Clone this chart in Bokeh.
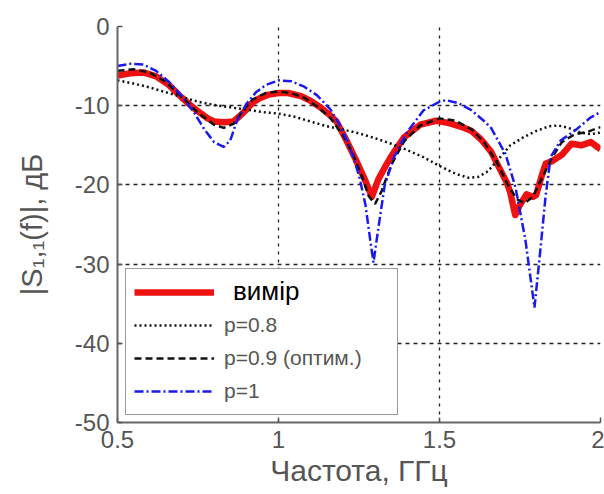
from bokeh.plotting import figure
from bokeh.models import Range1d, FixedTicker, Legend, LegendItem
from bokeh.embed import file_html
from bokeh.resources import INLINE

# ---- data ----
freq_meas = [0.50, 0.54, 0.58, 0.62, 0.66, 0.70, 0.74, 0.78, 0.80, 0.83, 0.86, 0.88, 0.90,
             0.92, 0.94, 0.97, 1.00, 1.03, 1.07, 1.10, 1.13, 1.16, 1.18, 1.21, 1.24, 1.27,
             1.29, 1.31, 1.33, 1.35, 1.39, 1.44, 1.49, 1.53, 1.57, 1.60, 1.63, 1.66, 1.69,
             1.71, 1.72, 1.735, 1.75, 1.77, 1.79, 1.80, 1.82, 1.83, 1.85, 1.88, 1.91, 1.94,
             1.97, 2.00]
s11_meas = [-6.2, -5.9, -5.8, -6.3, -7.4, -9.0, -10.4, -11.6, -12.0, -12.1, -12.0, -11.3, -10.5,
            -9.6, -9.1, -8.6, -8.4, -8.4, -8.8, -9.4, -10.2, -11.2, -12.0, -14.3, -16.8, -19.5,
            -21.5, -19.3, -17.8, -16.4, -14.0, -12.4, -11.9, -12.2, -12.7, -13.2, -14.3, -15.8, -18.2,
            -19.8, -21.0, -23.8, -22.5, -21.2, -21.5, -21.3, -18.5, -17.3, -17.0, -16.2, -14.8, -15.0,
            -14.6, -15.5]

freq_p08 = [0.50, 0.55, 0.60, 0.65, 0.70, 0.75, 0.80, 0.85, 0.90, 0.95, 1.00, 1.05, 1.10, 1.15,
            1.20, 1.25, 1.30, 1.35, 1.40, 1.45, 1.50, 1.55, 1.59, 1.62, 1.65, 1.68, 1.72, 1.76,
            1.80, 1.84, 1.87, 1.90, 1.94, 1.97, 2.00]
s11_p08 = [-6.8, -7.2, -7.7, -8.3, -8.9, -9.5, -9.9, -10.2, -10.5, -10.8, -11.0, -11.4, -12.0, -12.6,
           -13.0, -13.5, -14.1, -14.8, -15.6, -16.5, -17.6, -18.6, -19.1, -19.0, -18.3, -16.9, -15.0, -14.0,
           -13.2, -12.6, -12.5, -12.8, -13.4, -13.6, -13.4]

freq_p09 = [0.50, 0.55, 0.60, 0.65, 0.70, 0.75, 0.80, 0.83, 0.86, 0.89, 0.92, 0.96, 1.00, 1.04,
            1.08, 1.12, 1.16, 1.20, 1.23, 1.26, 1.28, 1.30, 1.32, 1.35, 1.39, 1.44, 1.50, 1.55,
            1.60, 1.64, 1.68, 1.71, 1.74, 1.765, 1.79, 1.82, 1.85, 1.88, 1.92, 1.96, 2.00]
s11_p09 = [-5.6, -5.4, -5.8, -7.0, -8.9, -10.9, -12.4, -12.8, -12.3, -10.6, -9.2, -8.4, -8.2, -8.4,
           -9.0, -10.1, -11.5, -13.7, -16.0, -19.0, -21.4, -22.4, -20.8, -17.5, -14.5, -12.5, -11.6, -11.9,
           -13.0, -14.7, -17.3, -19.8, -21.8, -22.3, -21.5, -19.0, -16.5, -14.6, -13.6, -13.3, -12.7]

freq_p1 = [0.50, 0.54, 0.58, 0.62, 0.66, 0.70, 0.74, 0.77, 0.80, 0.83, 0.85, 0.87, 0.90, 0.93,
           0.96, 1.00, 1.04, 1.08, 1.12, 1.16, 1.19, 1.22, 1.25, 1.27, 1.285, 1.295, 1.31, 1.33,
           1.36, 1.40, 1.45, 1.50, 1.52, 1.56, 1.60, 1.64, 1.66, 1.705, 1.736, 1.767, 1.795, 1.814,
           1.829, 1.845, 1.876, 1.922, 1.969, 2.00]
s11_p1 = [-5.0, -4.7, -4.8, -5.6, -7.0, -8.8, -11.0, -13.0, -14.6, -15.2, -14.4, -12.0, -9.8, -8.3,
          -7.4, -6.8, -6.9, -7.6, -8.7, -10.4, -12.4, -15.0, -18.8, -22.5, -27.0, -29.8, -25.5, -20.0,
          -16.4, -13.3, -10.6, -9.5, -9.3, -9.7, -10.6, -12.0, -12.8, -16.1, -20.3, -27.0, -35.5, -27.9,
          -21.6, -16.5, -14.4, -13.1, -11.5, -10.8]

x_ticks = [0.5, 1, 1.5, 2]
x_tick_labels = ["0.5", "1", "1.5", "2"]
y_ticks = [-50, -40, -30, -20, -10, 0]
y_tick_labels = ["-50", "-40", "-30", "-20", "-10", "0"]
legend_labels = ["вимір", "p=0.8", "p=0.9 (оптим.)", "p=1"]

FONT = "Liberation Sans"
GRAY = "#555555"

p = figure(width=604, height=494, output_backend="svg", toolbar_location=None,
           x_range=Range1d(0.5, 2), y_range=Range1d(-50, 0),
           min_border_left=117, min_border_right=4, min_border_top=26, min_border_bottom=72)
p.outline_line_color = None
p.background_fill_color = "white"
p.border_fill_color = "white"

# axes
for ax in (p.xaxis[0], p.yaxis[0]):
    ax.axis_line_color = "#666666"
    ax.axis_line_width = 2
    ax.major_tick_in = 5
    ax.major_tick_out = 0
    ax.major_tick_line_color = "#555555"
    ax.major_tick_line_width = 1.5
    ax.minor_tick_line_color = None
    ax.major_label_text_font = FONT
    ax.major_label_text_font_size = "24px"
    ax.major_label_text_color = GRAY
    ax.axis_label_text_font = FONT
    ax.axis_label_text_font_style = "normal"
    ax.axis_label_text_color = GRAY

p.xaxis.axis_label_text_font_size = "30px"
p.yaxis.axis_label_text_font_size = "29px"
p.xaxis.ticker = FixedTicker(ticks=x_ticks)
p.xaxis.major_label_overrides = dict(zip(x_ticks, x_tick_labels))
p.yaxis.ticker = FixedTicker(ticks=y_ticks)
p.yaxis.major_label_overrides = dict(zip(y_ticks, y_tick_labels))
p.xaxis.axis_label = "Частота, ГГц"
p.yaxis.axis_label = "|S\u2081,\u2081(f)|, дБ"
p.xaxis.major_label_standoff = 8
p.xaxis.axis_label_standoff = 3
p.yaxis.major_label_standoff = 8
p.yaxis.axis_label_standoff = 24

# grid
p.xgrid.grid_line_color = "#222222"
p.xgrid.grid_line_dash = "3 5"
p.xgrid.grid_line_width = 1.3
p.ygrid.grid_line_color = "#222222"
p.ygrid.grid_line_dash = "4 4"
p.ygrid.grid_line_width = 1.3

# series
r_meas = p.line(freq_meas, s11_meas, line_color="#ee1111", line_width=6.5, line_join="round")
r_p08 = p.line(freq_p08, s11_p08, line_color="#111111", line_width=2.5, line_dash="2 3")
r_p09 = p.line(freq_p09, s11_p09, line_color="#111111", line_width=2.5, line_dash="7 4")
r_p1 = p.line(freq_p1, s11_p1, line_color="#1a1aee", line_width=2.5, line_dash="9 3 2 3")
# invisible helper renderer carrying the big "вимір" legend label
r_blank = p.line([], [], line_alpha=0)

legend = Legend(items=[
    LegendItem(label="", renderers=[r_meas]),
    LegendItem(label=legend_labels[1], renderers=[r_p08]),
    LegendItem(label=legend_labels[2], renderers=[r_p09]),
    LegendItem(label=legend_labels[3], renderers=[r_p1]),
], location=(8, 7))
legend.label_text_font = FONT
legend.label_text_font_size = "21px"
legend.label_text_color = GRAY
legend.glyph_width = 80
legend.glyph_height = 30
legend.label_height = 30
legend.label_standoff = 10
legend.spacing = 3
legend.padding = 8
legend.margin = 0
legend.border_line_color = "#333333"
legend.border_line_width = 1.5
legend.background_fill_color = "white"
legend.background_fill_alpha = 1
legend.label_width = 165
p.add_layout(legend, "center")

legend_top = Legend(items=[LegendItem(label=legend_labels[0], renderers=[r_blank])],
                    location=(8, 115))
legend_top.label_text_font = FONT
legend_top.label_text_font_size = "26px"
legend_top.label_text_color = "black"
legend_top.glyph_width = 98
legend_top.glyph_height = 30
legend_top.label_height = 30
legend_top.label_standoff = 10
legend_top.padding = 8
legend_top.margin = 0
legend_top.border_line_color = None
legend_top.background_fill_alpha = 0
p.add_layout(legend_top, "center")

open("out.html", "w").write(file_html(p, INLINE))
